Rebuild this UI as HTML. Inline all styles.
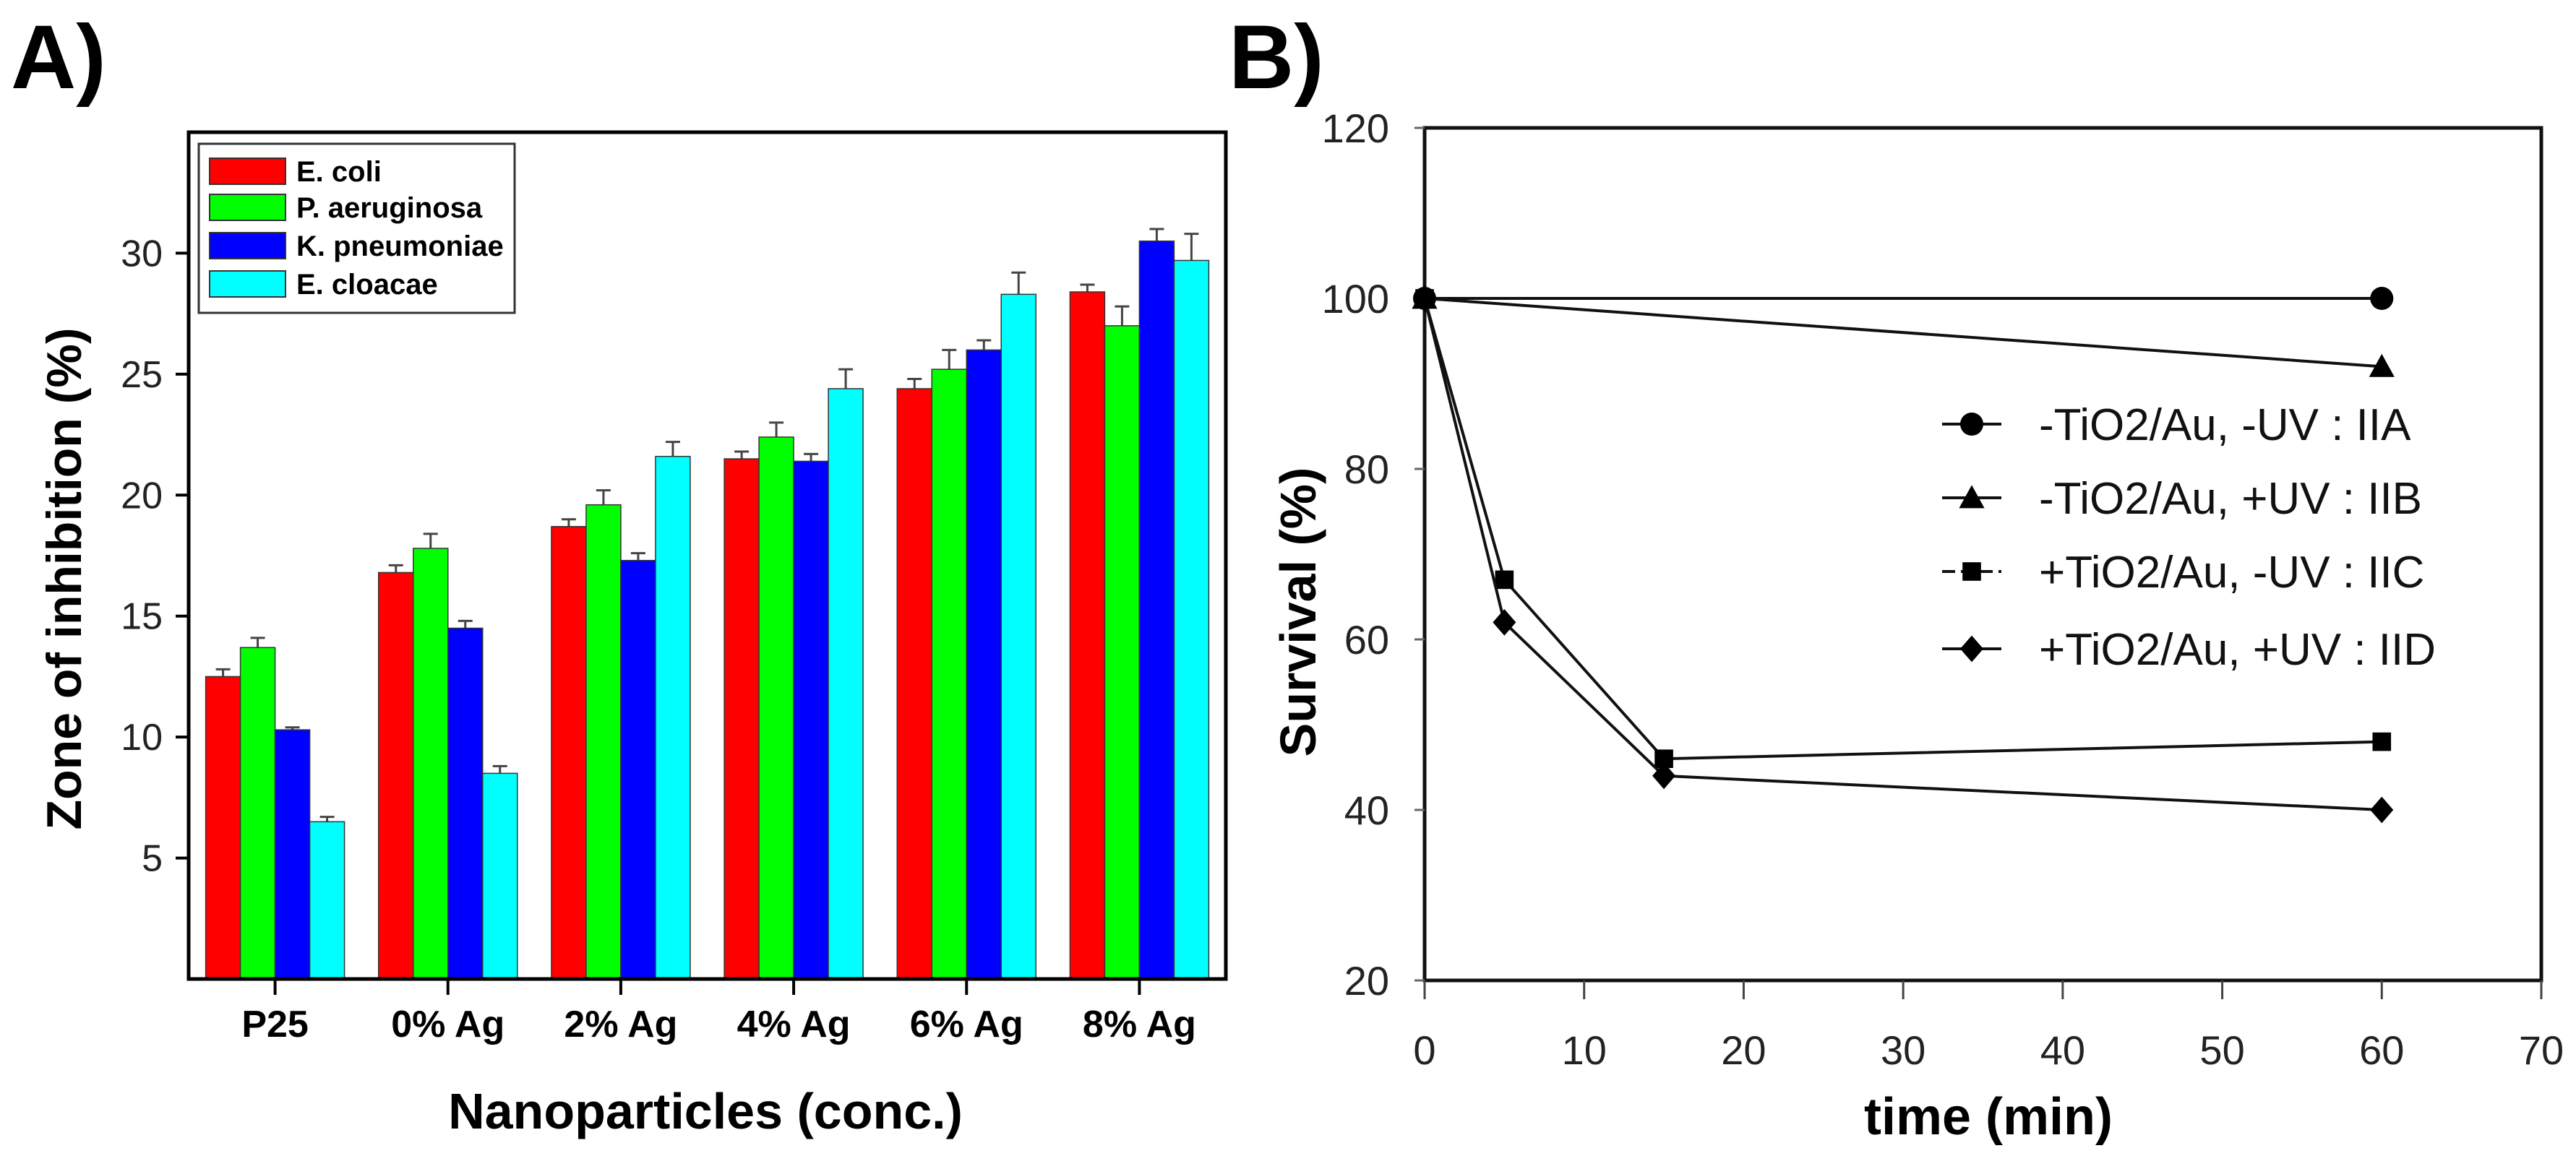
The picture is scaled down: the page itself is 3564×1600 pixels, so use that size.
<!DOCTYPE html>
<html><head><meta charset="utf-8"><style>
html,body{margin:0;padding:0;background:#fff}
svg{display:block}
text{font-family:"Liberation Sans",Arial,sans-serif}
</style></head><body>
<svg id="fig" width="3564" height="1600" viewBox="0 0 3564 1600" xmlns="http://www.w3.org/2000/svg">
<text x="15" y="122" font-size="125" font-weight="bold">A)</text>
<text x="1700" y="122" font-size="125" font-weight="bold">B)</text>
<g id="ga"></g>
<g id="gb"></g>
</svg>
<script>
const categories = ["P25","0% Ag","2% Ag","4% Ag","6% Ag","8% Ag"];
const seriesNames = ["E. coli","P. aeruginosa","K. pneumoniae","E. cloacae"];
const seriesColors = ["#ff0000","#00ff00","#0000ff","#00ffff"];
const ecoli = [12.5,16.8,18.7,21.5,24.4,28.4];
const paeru = [13.7,17.8,19.6,22.4,25.2,27.0];
const kpneu = [10.3,14.5,17.3,21.4,26.0,30.5];
const eclo = [6.5,8.5,21.6,24.4,28.3,29.7];
const ecoliErr = [0.3,0.3,0.3,0.3,0.4,0.3];
const paeruErr = [0.4,0.6,0.6,0.6,0.8,0.8];
const kpneuErr = [0.1,0.3,0.3,0.3,0.4,0.5];
const ecloErr = [0.2,0.3,0.6,0.8,0.9,1.1];
const yTicksA = [5,10,15,20,25,30];

const times = [0,5,15,60];
const iiaT = [0,60], iiaV = [100,100];
const iibT = [0,60], iibV = [100,92];
const iicV = [100,67,46,48];
const iidV = [100,62,44,40];
const yTicksB = [20,40,60,80,100,120];
const xTicksB = [0,10,20,30,40,50,60,70];
const legendB = ["-TiO2/Au, -UV : IIA","-TiO2/Au, +UV : IIB","+TiO2/Au, -UV : IIC","+TiO2/Au, +UV : IID"];

const NS="http://www.w3.org/2000/svg";
function mk(parent,tag,attrs,txt){const e=document.createElementNS(NS,tag);for(const k in attrs)e.setAttribute(k,attrs[k]);if(txt!==undefined)e.textContent=txt;parent.appendChild(e);return e;}

// ---- Panel A ----
const ga=document.getElementById('ga');
const AL=261,AR=1696,AT=183,AB=1355,AMAX=35;
const yA=v=>AB-(v/AMAX)*(AB-AT);
const band=(AR-AL)/categories.length;
const xA=i=>AL+band*(i+0.5);
const barW=48;
const allVals=[ecoli,paeru,kpneu,eclo], allErr=[ecoliErr,paeruErr,kpneuErr,ecloErr];
categories.forEach((c,i)=>{
  allVals.forEach((arr,s)=>{
    const x=xA(i)-2*barW+s*barW, y=yA(arr[i]);
    const ye=yA(arr[i]+allErr[s][i]);
    const l=mk(ga,'line',{x1:x+barW/2,x2:x+barW/2,y1:y,y2:ye,stroke:'#444','stroke-width':3});
    
    
    const cap=mk(ga,'line',{x1:x+barW/2-10,x2:x+barW/2+10,y1:ye,y2:ye,stroke:'#444','stroke-width':3});
    
    
    const r=mk(ga,'rect',{x:x,y:y,width:barW,height:AB-y,fill:seriesColors[s],stroke:'#333','stroke-width':1.5});
    
    
  });
  const t=mk(ga,'line',{x1:xA(i),x2:xA(i),y1:AB,y2:AB+22,stroke:'#000','stroke-width':4});
  
  
  const lb=mk(ga,'text',{x:xA(i),y:1435,'font-size':52,'font-weight':'bold','text-anchor':'middle'},c);
  
  
});
yTicksA.forEach(v=>{
  const t=mk(ga,'line',{x1:AL-18,x2:AL,y1:yA(v),y2:yA(v),stroke:'#000','stroke-width':4});
  
  
  const lb=mk(ga,'text',{x:AL-36,y:yA(v)+18,'font-size':52,'text-anchor':'end',fill:'#222'},v);
  
  
});
const fa=mk(ga,'rect',{x:AL,y:AT,width:AR-AL,height:AB-AT,fill:'none',stroke:'#000','stroke-width':5});


const lgA=mk(ga,'rect',{x:275,y:199,width:437,height:234,fill:'#fff',stroke:'#333','stroke-width':3});


seriesNames.forEach((n,s)=>{
  const cy=[237,287,340,393][s];
  const sw=mk(ga,'rect',{x:290,y:cy-18,width:105,height:36,fill:seriesColors[s],stroke:'#333','stroke-width':2});
  
  
  const tx=mk(ga,'text',{x:410,y:cy+14,'font-size':40,'font-weight':'bold'},n);
  
  
});
const yta=mk(ga,'text',{x:0,y:0,'font-size':68,'font-weight':'bold','text-anchor':'middle',transform:'translate(112,801) rotate(-90)'},'Zone of inhibition (%)');


const xta=mk(ga,'text',{x:976,y:1562,'font-size':70,'font-weight':'bold','text-anchor':'middle'},'Nanoparticles (conc.)');



// ---- Panel B ----
const gb=document.getElementById('gb');
const BL=1971,BR=3516,BT=177,BB=1357;
const xB=t=>BL+(t/70)*(BR-BL);
const yB=v=>BB-((v-20)/100)*(BB-BT);
const fb=mk(gb,'rect',{x:BL,y:BT,width:BR-BL,height:BB-BT,fill:'none',stroke:'#111','stroke-width':5});


yTicksB.forEach(v=>{
  const t=mk(gb,'line',{x1:BL-14,x2:BL,y1:yB(v),y2:yB(v),stroke:'#666','stroke-width':3});
  
  
  const lb=mk(gb,'text',{x:1922,y:yB(v)+20,'font-size':56,'text-anchor':'end',fill:'#222'},v);
  
  
});
xTicksB.forEach(v=>{
  const t=mk(gb,'line',{x1:xB(v),x2:xB(v),y1:BB,y2:BB+26,stroke:'#444','stroke-width':3});
  
  
  const lb=mk(gb,'text',{x:xB(v),y:1473,'font-size':56,'text-anchor':'middle',fill:'#222'},v);
  
  
});
function marker(g,type,cx,cy,r){
  let e;
  if(type==='circle') e=mk(g,'circle',{cx:cx,cy:cy,r:r,fill:'#000'});
  else if(type==='tri') e=mk(g,'polygon',{points:`${cx},${cy-r*1.1} ${cx-r*1.1},${cy+r*0.9} ${cx+r*1.1},${cy+r*0.9}`,fill:'#000'});
  else if(type==='square') e=mk(g,'rect',{x:cx-r*0.8,y:cy-r*0.8,width:r*1.6,height:r*1.6,fill:'#000'});
  else e=mk(g,'polygon',{points:`${cx},${cy-r*1.15} ${cx+r},${cy} ${cx},${cy+r*1.15} ${cx-r},${cy}`,fill:'#000'});
  return e;
}
const seriesB=[[iiaT,iiaV,'circle'],[iibT,iibV,'tri'],[times,iicV,'square'],[times,iidV,'diamond']];
seriesB.forEach(([ts,vs,mt],s)=>{
  const pts=ts.map((t,i)=>`${xB(t)},${yB(vs[i])}`).join(' ');
  const pl=mk(gb,'polyline',{points:pts,fill:'none',stroke:'#111','stroke-width':4});
  
  
  ts.forEach((t,i)=>{
    const m=marker(gb,mt,xB(t),yB(vs[i]),16);
    
    
  });
  const ly=[587,689,791,898][s];
  const ll=mk(gb,'line',{x1:2687,x2:2769,y1:ly,y2:ly,stroke:'#111','stroke-width':4,'stroke-dasharray':s===2?'18 8':'none'});
  
  
  const lm=marker(gb,mt,2728,ly,16);
  
  
  const lt=mk(gb,'text',{x:2821,y:ly+22,'font-size':62,fill:'#111'},legendB[s]);
  
  
});
const ytb=mk(gb,'text',{x:0,y:0,'font-size':70,'font-weight':'bold','text-anchor':'middle',transform:'translate(1820,847) rotate(-90)'},'Survival (%)');


const xtb=mk(gb,'text',{x:2751,y:1570,'font-size':72,'font-weight':'bold','text-anchor':'middle'},'time (min)');


</script>
</body></html>
